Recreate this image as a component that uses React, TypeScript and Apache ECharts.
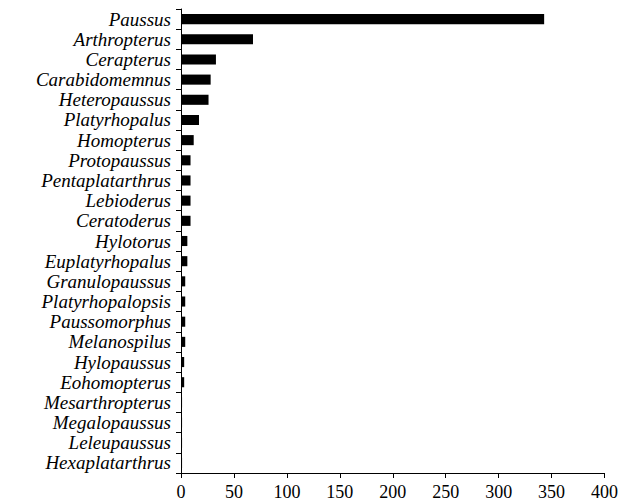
import React, { useEffect, useRef } from "react";
import * as echarts from "echarts";

const genera = [
  "Paussus",
  "Arthropterus",
  "Cerapterus",
  "Carabidomemnus",
  "Heteropaussus",
  "Platyrhopalus",
  "Homopterus",
  "Protopaussus",
  "Pentaplatarthrus",
  "Lebioderus",
  "Ceratoderus",
  "Hylotorus",
  "Euplatyrhopalus",
  "Granulopaussus",
  "Platyrhopalopsis",
  "Paussomorphus",
  "Melanospilus",
  "Hylopaussus",
  "Eohomopterus",
  "Mesarthropterus",
  "Megalopaussus",
  "Leleupaussus",
  "Hexaplatarthrus",
];

const counts = [343, 68, 33, 28, 26, 17, 12, 9, 9, 9, 9, 6, 6, 4, 4, 4, 4, 3, 3, 1, 1, 1, 1];

const xTicks = { min: 0, max: 400, interval: 50 };

export default function App() {
  const ref = useRef<HTMLDivElement>(null);
  useEffect(() => {
    if (!ref.current) return;
    const chart = echarts.init(ref.current, null, { renderer: "svg" });
    chart.setOption({
      animation: false,
      backgroundColor: "#ffffff",
      grid: { left: 181, right: 14, top: 9, bottom: 29, containLabel: false },
      xAxis: {
        type: "value",
        min: xTicks.min,
        max: xTicks.max,
        interval: xTicks.interval,
        axisLine: { show: true, lineStyle: { color: "#000", width: 1 } },
        axisTick: { show: true, length: 5, lineStyle: { color: "#000" } },
        splitLine: { show: false },
        axisLabel: {
          color: "#000",
          fontFamily: "Liberation Serif",
          fontSize: 18,
          margin: 10,
          showMaxLabel: true,
        },
      },
      yAxis: {
        type: "category",
        data: genera,
        inverse: true,
        axisLine: { show: true, lineStyle: { color: "#000", width: 1 } },
        axisTick: { show: true, length: 5, alignWithLabel: false, lineStyle: { color: "#000" } },
        axisLabel: {
          color: "#000",
          fontFamily: "Liberation Serif",
          fontStyle: "italic",
          fontSize: 19,
          lineHeight: 19,
          margin: 10,
          interval: 0,
        },
      },
      series: [
        {
          type: "bar",
          data: counts,
          barWidth: "50%",
          itemStyle: { color: "#000" },
        },
      ],
    });
    return () => chart.dispose();
  }, []);
  return (
    <div
      ref={ref}
      style={{ position: "fixed", left: 0, top: 0, width: 621, height: 502 }}
    />
  );
}
